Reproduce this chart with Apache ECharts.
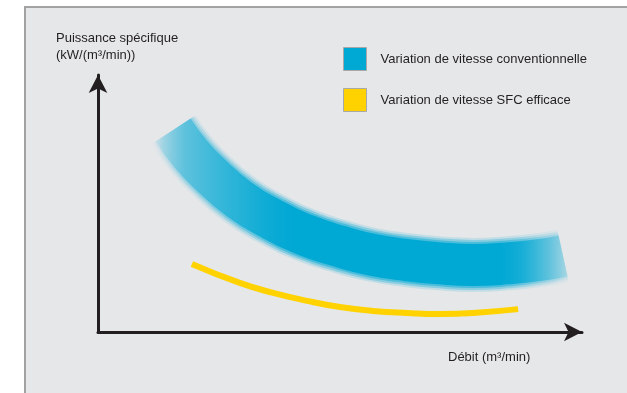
<!DOCTYPE html>
<html><head><meta charset="utf-8">
<script src="https://cdn.jsdelivr.net/npm/echarts@6/dist/echarts.min.js"></script>
<style>html,body{margin:0;padding:0;background:#fff}#c{width:627px;height:393px}</style>
</head><body><div id="c"></div>
<script>
// ---- data ----
const seriesNames = ['Variation de vitesse conventionnelle', 'Variation de vitesse SFC efficace'];
const yAxisName = 'Puissance spécifique\n(kW/(m³/min))';
const xAxisName = 'Débit (m³/min)';
const conventionalX = [15.5, 19.0, 22.5, 29.3, 36.2, 43.2, 50.0, 56.8, 63.8, 70.7, 77.5, 84.5, 91.3, 96.1];
const conventionalY = [78.6, 69.6, 62.5, 51.4, 43.6, 37.5, 33.3, 30.0, 28.0, 26.7, 26.1, 26.7, 28.0, 29.6];
const sfcX = [19.4, 29.3, 36.2, 43.2, 50.0, 56.8, 63.8, 70.7, 77.5, 86.8];
const sfcY = [26.5, 19.1, 15.2, 12.1, 9.7, 8.2, 7.4, 7.0, 7.4, 8.9];

// ---- layout / style ----
const FONT = '"Liberation Sans", Arial, Helvetica, sans-serif';
const G = {left: 98, right: 45, top: 75, bottom: 61};
const BLUE = 'rgb(0,168,212)';
const a = al => 'rgba(0,168,212,' + al + ')';
const GX0 = 150, GX1 = 590;
const st = (p, al) => ({offset: (p - GX0) / (GX1 - GX0), color: a(al)});
const bandGradient = new echarts.graphic.LinearGradient(GX0, 0, GX1, 0, [
  st(150, 0), st(165, 0.2), st(185, 0.4), st(215, 0.55), st(245, 0.7), st(275, 0.9), st(295, 1),
  st(500, 1), st(520, 0.8), st(540, 0.5), st(560, 0.25), st(575, 0.05), st(590, 0)
], true);

const conv = conventionalX.map((x, i) => [x, conventionalY[i]]);
const sfc = sfcX.map((x, i) => [x, sfcY[i]]);

function band(name, width, opacity, z) {
  return {
    type: 'line', name: name, data: conv, smooth: 0.5, symbol: 'none', silent: true, z: z,
    lineStyle: {width: width, color: bandGradient, opacity: opacity, cap: 'butt', join: 'round'},
    itemStyle: {color: BLUE}
  };
}

const axisCommon = {
  type: 'value', min: 0, max: 100,
  axisLine: {show: true, symbol: ['none', 'arrow'], symbolSize: [14, 18], lineStyle: {color: '#231f20', width: 3}},
  axisTick: {show: false}, axisLabel: {show: false}, splitLine: {show: false}
};

const textStyle = {fontFamily: FONT, fontSize: 13, fontWeight: 'normal', color: '#231f20', lineHeight: 17};

const chart = echarts.init(document.getElementById('c'), null, {renderer: 'canvas'});
chart.setOption({
  animation: false,
  backgroundColor: '#ffffff',
  graphic: [{
    type: 'rect', z: -100, silent: true,
    shape: {x: 25, y: 7, width: 640, height: 420},
    style: {fill: '#e6e7e9', stroke: '#a2a2a2', lineWidth: 2}
  }],
  title: [
    {text: yAxisName, left: 56, top: 30, padding: 0, textStyle: textStyle},
    {text: xAxisName, left: 448, top: 349, padding: 0, textStyle: textStyle}
  ],
  legend: {
    orient: 'vertical', left: 343, top: 47, padding: 0,
    itemWidth: 23, itemHeight: 23, itemGap: 17, icon: 'rect', selectedMode: false,
    data: [
      {name: seriesNames[0], itemStyle: {color: '#00a9d4', borderColor: '#a8a8a8', borderWidth: 1}},
      {name: seriesNames[1], itemStyle: {color: '#ffd200', borderColor: '#a8a8a8', borderWidth: 1}}
    ],
    textStyle: {fontFamily: FONT, fontSize: 13, color: '#231f20', padding: [0, 0, 0, 9]}
  },
  grid: G,
  xAxis: axisCommon,
  yAxis: axisCommon,
  series: [
    band('halo3', 54, 0.15, 2),
    band('halo2', 50, 0.3, 3),
    band('halo1', 46, 0.45, 4),
    band(seriesNames[0], 42, 1, 5),
    {
      type: 'line', name: seriesNames[1], data: sfc, smooth: 0.5, symbol: 'none', silent: true, z: 6,
      lineStyle: {width: 6, color: '#ffd200', cap: 'butt'},
      itemStyle: {color: '#ffd200'}
    }
  ]
});
</script>
</body></html>
